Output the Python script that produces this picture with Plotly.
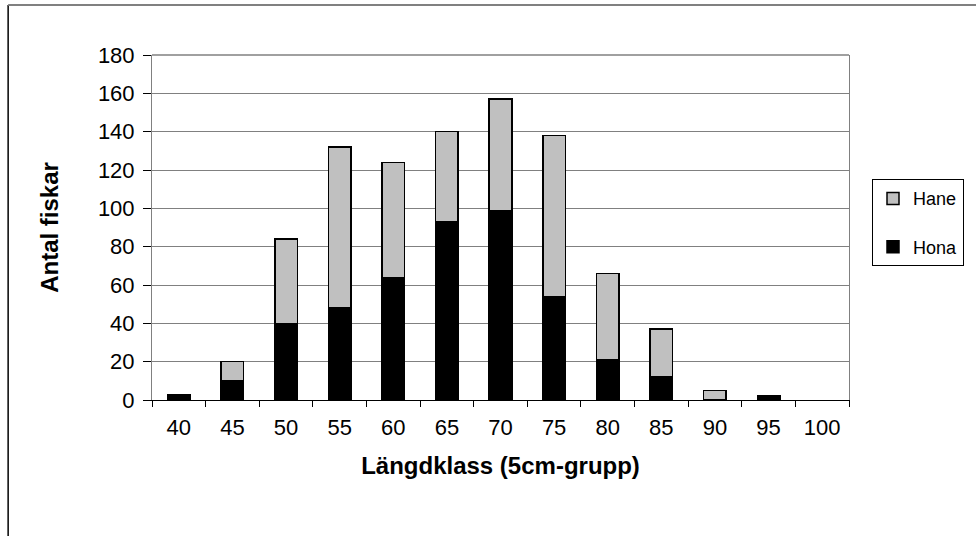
import plotly.graph_objects as go

# Length classes (5 cm groups) and number of fish per sex
langdklass = ["40", "45", "50", "55", "60", "65", "70", "75", "80", "85", "90", "95", "100"]
hona = [3, 10, 40, 48, 64, 93, 99, 54, 21, 12, 0, 2, 0]
hane = [0, 10, 44, 84, 60, 47, 58, 84, 45, 25, 5, 0, 0]

y_ticks = list(range(0, 181, 20))


def nz(vals):
    # empty classes get no bar at all
    return [v if v else None for v in vals]


fig = go.Figure()
fig.add_trace(go.Bar(
    x=langdklass, y=nz(hona), name="Hona", legendgroup="hona", legendrank=2,
    marker=dict(color="#000000", line=dict(color="#000000", width=1.5)),
))
fig.add_trace(go.Bar(
    x=langdklass, y=nz(hane), name="Hane", legendgroup="hane", legendrank=1,
    marker=dict(color="#C0C0C0", line=dict(color="#000000", width=1.5)),
))

FONT = "Liberation Sans, Arial, sans-serif"
TITLE_FONT = dict(size=24, family=FONT, weight="bold", color="black")

fig.update_layout(
    width=976, height=536, autosize=False,
    margin=dict(l=152, r=124, t=55, b=136),
    paper_bgcolor="white", plot_bgcolor="white",
    barmode="stack", bargap=0.58,
    font=dict(family=FONT, size=18, color="black"),
    showlegend=True,
    legend=dict(
        x=1.033, xanchor="left", y=0.64, yanchor="top",
        traceorder="grouped",
        bordercolor="black", borderwidth=1,
        font=dict(size=18), itemwidth=30,
        tracegroupgap=22,
    ),
    xaxis=dict(
        type="category",
        tickson="boundaries", ticks="outside", ticklen=6, tickcolor="black",
        showline=True, linecolor="black", linewidth=1,
        showgrid=False,
        tickfont=dict(size=22),
        ticklabelstandoff=8,
        title=dict(text="Längdklass (5cm-grupp)", font=TITLE_FONT, standoff=17),
    ),
    yaxis=dict(
        range=[0, 180], tickvals=y_ticks,
        ticks="outside", ticklen=8, tickcolor="black",
        showline=True, linecolor="#808080", linewidth=1, mirror=True,
        showgrid=True, gridcolor="#808080", gridwidth=1,
        zeroline=False,
        tickfont=dict(size=22),
        ticklabelstandoff=4,
        title=dict(text="Antal fiskar", font=TITLE_FONT, standoff=32),
    ),
    shapes=[
        # top edge of the plot area
        dict(type="line", xref="paper", yref="paper", x0=0, x1=1, y0=1, y1=1,
             line=dict(color="#808080", width=1.5)),
        # chart frame: left and top edges
        dict(type="line", xref="paper", yref="paper", x0=-0.2064, x1=-0.2064,
             y0=-0.45, y1=1.145, line=dict(color="black", width=1.5)),
        dict(type="line", xref="paper", yref="paper", x0=-0.2064, x1=1.25,
             y0=1.145, y1=1.145, line=dict(color="#808080", width=2)),
    ],
)

fig.write_html("out.html")
